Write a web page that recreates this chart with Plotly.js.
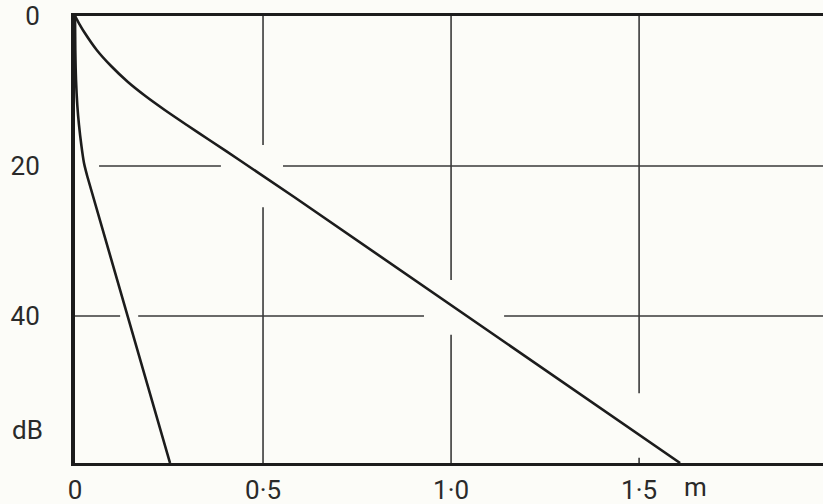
<!DOCTYPE html>
<html>
<head>
<meta charset="utf-8">
<script src="https://cdn.plot.ly/plotly-3.0.1.min.js"></script>
<style>html,body{margin:0;padding:0;background:#fcfcf8;}</style>
</head>
<body>
<div id="chart" style="width:823px;height:504px;"></div>
<script>
// Distance (m) and attenuation (dB)
const steepX = [0, 0.0008, 0.0027, 0.0061, 0.0106, 0.0168, 0.0239, 0.0332, 0.2527];
const steepY = [0, 4.53, 8.53, 11.87, 14.53, 17.2, 19.6, 21.47, 59.6];

const gentleX = [0, 0.0117, 0.0261, 0.0577, 0.096, 0.1407, 0.1872, 0.2386, 0.2973, 0.3572, 0.437, 0.5827, 1.609];
const gentleY = [0, 1.07, 2.27, 4.53, 6.67, 8.8, 10.67, 12.53, 14.53, 16.53, 19.2, 24.13, 59.6];

const xTickVals = [0, 0.5, 1.0, 1.5];
const xTickText = ['0', '0·5', '1·0', '1·5'];
const yTickVals = [0, 20, 40];
const yTickText = ['0', '20', '40'];

const X_MAX = 1.989, Y_MAX = 59.6;
const ink = '#1c1c1c';
const gridInk = '#3a3a3a';

// broken grid lines of the original drawing: [x0, y0, x1, y1]
const gridSegs = [
  [0.5, 0, 0.5, 17.2], [0.5, 25.5, 0.5, Y_MAX],
  [1.0, 0, 1.0, 35.2], [1.0, 42.5, 1.0, Y_MAX],
  [1.5, 0, 1.5, 50.3], [1.5, 58.9, 1.5, Y_MAX],
  [0.064, 20, 0.388, 20], [0.553, 20, X_MAX, 20],
  [0, 40, 0.12, 40], [0.168, 40, 0.928, 40], [1.141, 40, X_MAX, 40]
];

const shapes = gridSegs.map(s => ({
  type: 'line', xref: 'x', yref: 'y',
  x0: s[0], y0: s[1], x1: s[2], y1: s[3],
  line: {color: gridInk, width: 1.6}, layer: 'below'
}));

const font = {family: 'Roboto, "DejaVu Sans", sans-serif', size: 26, color: '#2a2a2a'};

const traces = [
  {x: steepX, y: steepY, mode: 'lines', line: {color: ink, width: 2.6, shape: 'spline', smoothing: 0.8}, hoverinfo: 'skip'},
  {x: gentleX, y: gentleY, mode: 'lines', line: {color: ink, width: 2.6, shape: 'spline', smoothing: 0.8}, hoverinfo: 'skip'}
];

const layout = {
  width: 823, height: 504,
  margin: {l: 75, r: 0, t: 16, b: 41, pad: 0},
  paper_bgcolor: '#fcfcf8', plot_bgcolor: '#fcfcf8',
  showlegend: false,
  font: font,
  xaxis: {
    range: [0, X_MAX], showgrid: false, zeroline: false,
    showline: true, mirror: true, linecolor: ink, linewidth: 3,
    tickvals: xTickVals, ticktext: xTickText, ticks: '',
    ticklabelstandoff: 2, tickfont: font, fixedrange: true
  },
  yaxis: {
    range: [Y_MAX, 0], showgrid: false, zeroline: false,
    showline: true, mirror: false, linecolor: ink, linewidth: 4,
    tickvals: yTickVals, ticktext: yTickText, ticks: '',
    ticklabelstandoff: 26, tickfont: font, fixedrange: true
  },
  shapes: shapes,
  annotations: [
    {text: 'm', xref: 'x', yref: 'paper', x: 1.649, y: -0.054, xanchor: 'center', yanchor: 'middle', showarrow: false, font: font},
    {text: 'dB', xref: 'paper', yref: 'y', x: -0.064, y: 55.2, xanchor: 'center', yanchor: 'middle', showarrow: false, font: font}
  ]
};

Plotly.newPlot('chart', traces, layout, {staticPlot: true, displayModeBar: false});
</script>
</body>
</html>
